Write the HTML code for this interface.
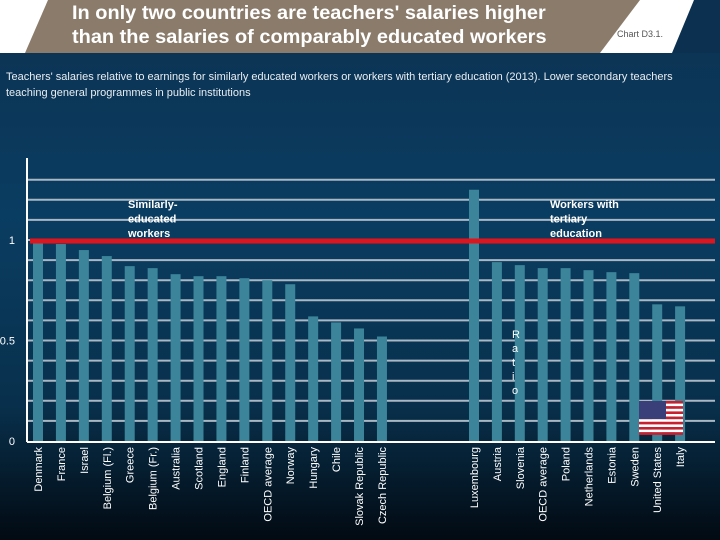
<!DOCTYPE html>
<html><head><meta charset="utf-8"><style>
body{margin:0;width:720px;height:540px;overflow:hidden;font-family:"Liberation Sans",sans-serif;}
#root{position:relative;width:720px;height:540px;background:linear-gradient(#0c3150 0%,#0a3d62 40%,#08304c 75%,#020a12 100%);}
#hdr{position:absolute;left:0;top:0;width:720px;height:53px;background:#fff;}
</style></head><body>
<div id="root">
<div id="hdr">
<svg width="720" height="53" style="position:absolute;left:0;top:0">
<polygon points="48,0 640,0 600,53 25,53" fill="#8b7b6b"/>
<polygon points="694,0 720,0 720,53 672,53" fill="#0c3150"/>
</svg>
<div style="position:absolute;left:72px;top:2px;color:#fff;font-weight:bold;font-size:19px;line-height:24px;transform:scale(1.05,1);transform-origin:0 0;">In only two countries are teachers' salaries higher<br>than the salaries of comparably educated workers</div>
<div style="position:absolute;left:617px;top:29px;font-size:9px;color:#555;">Chart D3.1.</div>
</div>
<div style="position:absolute;left:6px;top:69px;font-size:11px;line-height:16px;color:#e8eef3;">Teachers' salaries relative to earnings for similarly educated workers or workers with tertiary education (2013). Lower secondary teachers<br>teaching general programmes in public institutions</div>
<svg id="chart" width="720" height="540" style="position:absolute;left:0;top:0"></svg>
</div>
<script>
const groupA=["Denmark","France","Israel","Belgium (Fl.)","Greece","Belgium (Fr.)","Australia","Scotland","England","Finland","OECD average","Norway","Hungary","Chile","Slovak Republic","Czech Republic"];
const valuesA=[0.985,0.98,0.95,0.92,0.87,0.86,0.83,0.82,0.82,0.81,0.80,0.78,0.62,0.59,0.56,0.52];
const groupB=["Luxembourg","Austria","Slovenia","OECD average","Poland","Netherlands","Estonia","Sweden","United States","Italy"];
const valuesB=[1.25,0.89,0.875,0.86,0.86,0.85,0.84,0.835,0.68,0.67];
const yTicks=[0,0.5,1];
const yTickLabels=["0","0.5","1"];
const NS="http://www.w3.org/2000/svg";
const svg=document.getElementById('chart');
const y=v=>441-v*201;
const xA=i=>38+i*22.93;
const xB=i=>474+i*22.9;
function mk(t,a){const e=document.createElementNS(NS,t);for(const k in a)e.setAttribute(k,a[k]);svg.appendChild(e);return e;}
for(let g=1;g<=13;g++){
 const l=mk('line',{x1:28,x2:715,y1:y(g/10),y2:y(g/10),stroke:'#aab8c4','stroke-width':2});
 
 
}
function bars(names,vals,xf){
 names.forEach((n,i)=>{
  const r=mk('rect',{x:xf(i)-5,y:y(vals[i]),width:10,height:y(0)-y(vals[i]),fill:'#3b8499'});
  
  
  const t=mk('text',{x:0,y:0,fill:'#fff','font-size':11,'text-anchor':'end',transform:`translate(${xf(i)+4},447) rotate(-90)`,'font-family':'Liberation Sans, sans-serif'});
  t.textContent=n;
  
  
 });
}
bars(groupA,valuesA,xA);
bars(groupB,valuesB,xB);
const ax=mk('line',{x1:27,x2:27,y1:158,y2:442,stroke:'#fff','stroke-width':2});


const bx=mk('line',{x1:27,x2:715,y1:442,y2:442,stroke:'#fff','stroke-width':2});


yTicks.forEach((v,i)=>{
 const t=mk('text',{x:15,y:y(v)+4,fill:'#fff','font-size':11,'text-anchor':'end','font-family':'Liberation Sans, sans-serif'});
 t.textContent=yTickLabels[i];
 
 
});
const rl=mk('line',{x1:30,x2:715,y1:y(1)+1,y2:y(1)+1,stroke:'#e0141c','stroke-width':5});


function label(x,lines,name){
 const t=mk('text',{x:x,y:208,fill:'#fff','font-size':11,'font-weight':'bold','font-family':'Liberation Sans, sans-serif'});
 
 
 lines.forEach((s,i)=>{const ts=document.createElementNS(NS,'tspan');ts.setAttribute('x',x);ts.setAttribute('dy',i?14.5:0);ts.textContent=s;t.appendChild(ts);});
}
label(128,["Similarly-","educated","workers"],'group-label-similar');
label(550,["Workers with","tertiary","education"],'group-label-tertiary');
"Ratio".split('').forEach((c,i)=>{
 const t=mk('text',{x:512,y:338+i*14,fill:'#fff','font-size':11,'font-family':'Liberation Sans, sans-serif'});
 t.textContent=c;
 
 
});
const fg=document.createElementNS(NS,'g');


svg.appendChild(fg);
for(let i=0;i<13;i++){const r=document.createElementNS(NS,'rect');r.setAttribute('x',639);r.setAttribute('y',401+i*2.6);r.setAttribute('width',44);r.setAttribute('height',2.7);r.setAttribute('fill',i%2?'#fff':'#c8202f');fg.appendChild(r);}
const cn=document.createElementNS(NS,'rect');cn.setAttribute('x',639);cn.setAttribute('y',401);cn.setAttribute('width',27);cn.setAttribute('height',18);cn.setAttribute('fill','#3a3f7a');fg.appendChild(cn);
</script>
</body></html>
